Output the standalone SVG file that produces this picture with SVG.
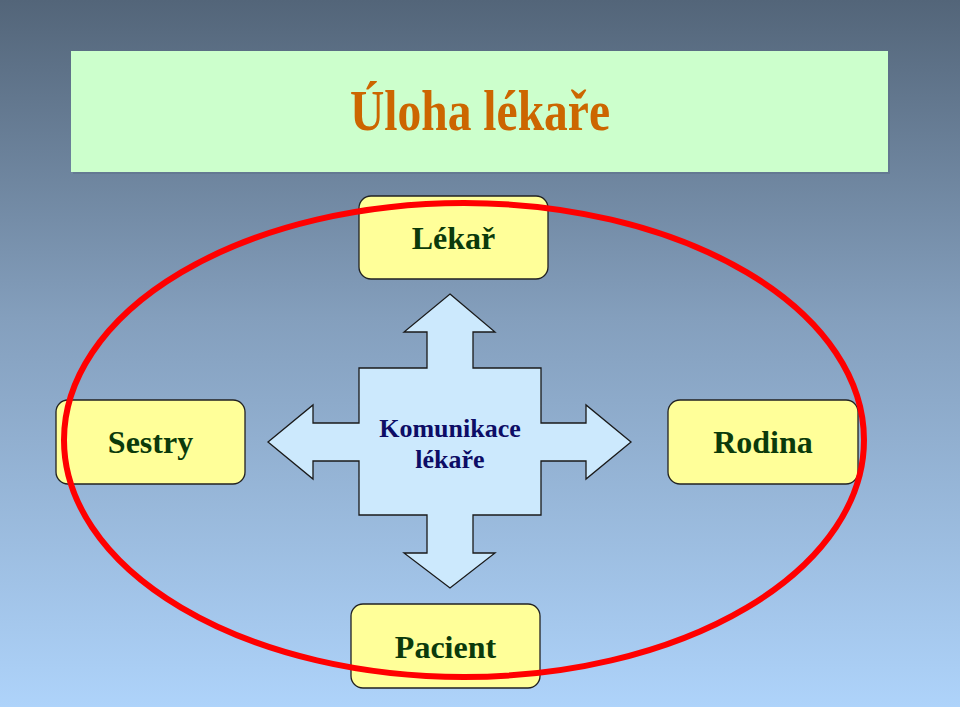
<svg xmlns="http://www.w3.org/2000/svg" width="960" height="707" viewBox="0 0 960 707">
<defs>
<linearGradient id="bg" x1="0" y1="0" x2="0" y2="1">
<stop offset="0" stop-color="#536579"/>
<stop offset="0.45" stop-color="#849fbd"/>
<stop offset="1" stop-color="#aed3fa"/>
</linearGradient>
<style>
.box{fill:#ffff99;stroke:#222;stroke-width:1.3}
.lbl{font-family:"Liberation Serif","Times New Roman",serif;font-weight:bold;font-size:32px;fill:#0b3a0b;text-anchor:middle}
.ctr{font-family:"Liberation Serif","Times New Roman",serif;font-weight:bold;font-size:26px;fill:#0d0d66;text-anchor:middle}
</style>
</defs>
<rect width="960" height="707" fill="url(#bg)"/>
<g id="title">
<rect x="73" y="53" width="817" height="121" fill="#5a6e86" opacity="0.5"/>
<rect x="71" y="51" width="817" height="121" fill="#ccffcc"/>
<text x="480" y="130" font-family="Liberation Serif,'Times New Roman',serif" font-weight="bold" font-size="56" fill="#cc6600" text-anchor="middle" textLength="260" lengthAdjust="spacingAndGlyphs">Úloha lékaře</text>
</g>
<g id="lekar">
<rect class="box" x="359" y="196" width="189" height="83" rx="12"/>
<text class="lbl" x="453.5" y="249">Lékař</text>
</g>
<g id="sestry">
<rect class="box" x="56" y="400" width="189" height="84" rx="12"/>
<text class="lbl" x="150.5" y="453">Sestry</text>
</g>
<g id="rodina">
<rect class="box" x="668" y="400" width="190" height="84" rx="12"/>
<text class="lbl" x="763" y="453">Rodina</text>
</g>
<g id="pacient">
<rect class="box" x="351" y="604" width="189" height="84" rx="12"/>
<text class="lbl" x="445.5" y="658">Pacient</text>
</g>
<g id="komunikace">
<polygon points="450,294 495,332 473,332 473,368 541,368 541,423 586,423 586,405 631,442 586,479 586,461 541,461 541,515 473,515 473,553 495,553 450,588 404,553 427,553 427,515 359,515 359,461 313,461 313,479 268,442 313,405 313,423 359,423 359,368 427,368 427,332 404,332" fill="#cce9fd" stroke="#1a1a1a" stroke-width="1.3" stroke-linejoin="miter"/>
<text class="ctr" x="450" y="437">Komunikace</text>
<text class="ctr" x="450" y="468">lékaře</text>
</g>
<g id="connectors">
<ellipse cx="464" cy="440" rx="400" ry="237" fill="none" stroke="#ff0000" stroke-width="6"/>
</g>
</svg>
